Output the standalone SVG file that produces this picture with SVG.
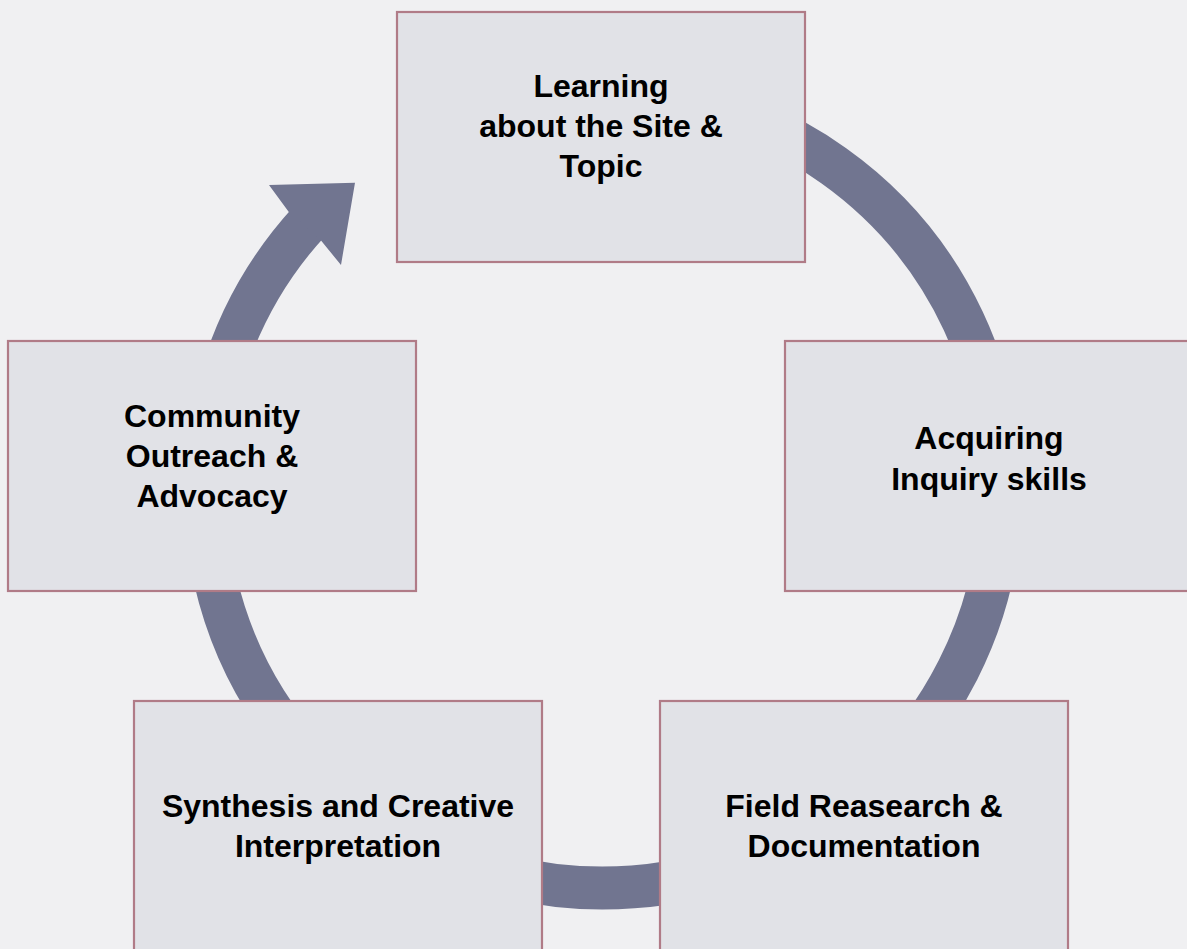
<svg xmlns="http://www.w3.org/2000/svg" width="1187" height="949" viewBox="0 0 1187 949">
  <style>
    .box { fill: #e1e2e7; stroke: #b07b87; stroke-width: 2.2; }
    .label { font-family: "Liberation Sans", Arial, sans-serif; font-weight: bold; font-size: 32px; fill: #000; text-anchor: middle; }
    .ring { fill: none; stroke: #717590; stroke-width: 43; }
    .head { fill: #717590; }
  </style>
  <rect width="1187" height="949" fill="#f0f0f2"/>

  <!-- cycle ring (center 603,490, r 398); its end tucks under the arrowhead at the top-left -->
  <g id="connectors">
    <path class="ring" d="M 467 116 A 398 398 0 1 1 309.6 221.1"/>
    <polygon class="head" points="288.8,212 269,185 355,182.7 341,265 321,240.5"/>
  </g>

  <g id="node-learning">
    <rect class="box" x="397" y="12" width="408" height="250"/>
    <text class="label" x="601" y="97">Learning</text>
    <text class="label" x="601" y="137">about the Site &amp;</text>
    <text class="label" x="601" y="177">Topic</text>
  </g>

  <g id="node-inquiry">
    <rect class="box" x="785" y="341" width="408" height="250"/>
    <text class="label" x="989" y="449">Acquiring</text>
    <text class="label" x="989" y="490">Inquiry skills</text>
  </g>

  <g id="node-field">
    <rect class="box" x="660" y="701" width="408" height="252"/>
    <text class="label" x="864" y="817">Field Reasearch &amp;</text>
    <text class="label" x="864" y="857">Documentation</text>
  </g>

  <g id="node-synthesis">
    <rect class="box" x="134" y="701" width="408" height="252"/>
    <text class="label" x="338" y="817">Synthesis and Creative</text>
    <text class="label" x="338" y="857">Interpretation</text>
  </g>

  <g id="node-outreach">
    <rect class="box" x="8" y="341" width="408" height="250"/>
    <text class="label" x="212" y="427">Community</text>
    <text class="label" x="212" y="467">Outreach &amp;</text>
    <text class="label" x="212" y="507">Advocacy</text>
  </g>
</svg>
